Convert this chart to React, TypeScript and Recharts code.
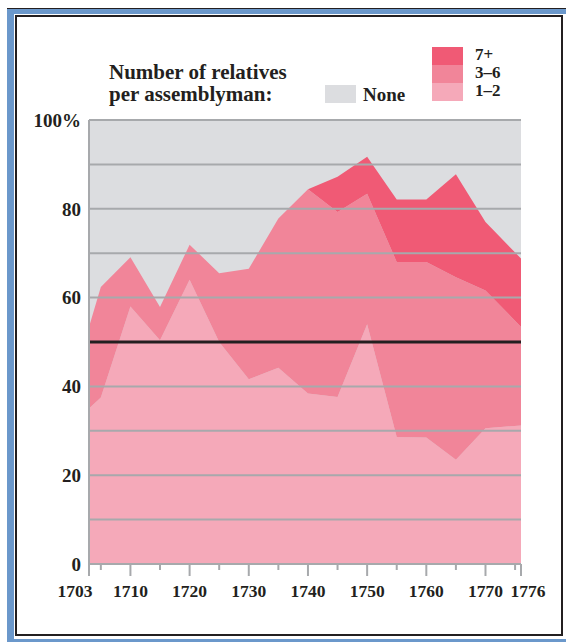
import { AreaChart, Area, XAxis, YAxis, CartesianGrid, ReferenceLine } from "recharts";

const years = [1703, 1705, 1710, 1715, 1720, 1725, 1730, 1735, 1740, 1745, 1750, 1755, 1760, 1765, 1770, 1776];
const oneTwo = [35, 37.5, 58, 50.4, 64, 50, 41.6, 44.2, 38.4, 37.6, 54, 28.6, 28.5, 23.5, 30.6, 31.2];
const threeSix = [18.4, 24.9, 11.1, 7.5, 7.9, 15.5, 24.9, 33.6, 46, 41.7, 29.4, 39.4, 39.5, 41.1, 31, 22.2];
const sevenPlus = [0, 0, 0, 0, 0, 0, 0, 0, 0, 7.9, 8.3, 14.1, 14.1, 23.2, 15.4, 15.4];

const xTicks = [1703, 1705, 1710, 1715, 1720, 1725, 1730, 1735, 1740, 1745, 1750, 1755, 1760, 1765, 1770, 1775, 1776];
const xLabels = [1703, 1710, 1720, 1730, 1740, 1750, 1760, 1770, 1776];
const yTicks = [0, 10, 20, 30, 40, 50, 60, 70, 80, 90, 100];
const gridValues = [10, 20, 30, 40, 60, 70, 80, 90, 100];

const legendItems = [
  { label: "7+", color: "#f05a75" },
  { label: "3\u20136", color: "#f18599" },
  { label: "1\u20132", color: "#f5a9b9" },
];

const data = years.map((year, i) => ({
  year,
  oneTwo: oneTwo[i],
  threeSix: threeSix[i],
  sevenPlus: sevenPlus[i],
}));

const FONT = "'Liberation Serif', 'Times New Roman', serif";
const INK = "#231f20";
const GRID = "#a7a9ac";

function XTick(props: any) {
  const { x, y, payload } = props;
  const major = xLabels.includes(payload.value);
  // end labels are nudged outward so they clear their neighbours
  const shift = payload.value === 1703 ? -14 : payload.value === 1776 ? 7 : 0;
  const top = y - 8; // axis line
  return (
    <g>
      <line x1={x} x2={x} y1={top} y2={top + (major ? 12 : 6)} stroke={GRID} strokeWidth={2} />
      {major && (
        <text x={x + shift} y={top + 33} textAnchor="middle" fontFamily={FONT} fontWeight="bold" fontSize={17.5} fill={INK}>
          {payload.value}
        </text>
      )}
    </g>
  );
}

export default function App() {
  return (
    <div style={{ position: "absolute", left: 0, top: 0, width: 566, height: 642, overflow: "hidden", background: "#fff" }}>
      {/* blue frame */}
      <div style={{ position: "absolute", left: 7, top: 8, width: 600, height: 640, background: "#6b98cb", borderTop: `1px solid ${INK}` }} />
      <div style={{ position: "absolute", left: 14, top: 14, width: 552, height: 625, background: "#fff" }} />
      <div style={{ position: "absolute", left: 15, top: 15, width: 544, height: 617, border: `2px solid ${INK}`, background: "#fff" }} />

      {/* title */}
      <div style={{ position: "absolute", left: 109, top: 61, fontFamily: FONT, fontWeight: "bold", fontSize: 21, lineHeight: "22px", color: INK }}>
        Number of relatives
        <br />
        per assemblyman:
      </div>

      {/* legend */}
      <div style={{ position: "absolute", left: 325, top: 85, width: 31, height: 18, background: "#dcdde0" }} />
      <div style={{ position: "absolute", left: 363, top: 84, fontFamily: FONT, fontWeight: "bold", fontSize: 19, lineHeight: "22px", color: INK }}>
        None
      </div>
      {legendItems.map((item, i) => (
        <div key={item.label}>
          <div style={{ position: "absolute", left: 432, top: 47 + i * 18, width: 31, height: 18, background: item.color }} />
          <div style={{ position: "absolute", left: 475, top: 46 + i * 18, fontFamily: FONT, fontWeight: "bold", fontSize: 17, lineHeight: "17px", color: INK }}>
            {item.label}
          </div>
        </div>
      ))}

      <div style={{ position: "absolute", left: 0, top: 0 }}>
        <AreaChart width={566} height={642} data={data} margin={{ top: 120, right: 45, bottom: 48, left: 29 }}>
          <CartesianGrid horizontal={false} vertical={false} fill="#dcdde0" fillOpacity={1} />
          <XAxis
            dataKey="year"
            type="number"
            domain={[1703, 1776]}
            ticks={xTicks}
            interval={0}
            height={30}
            tickLine={false}
            axisLine={{ stroke: GRID, strokeWidth: 2 }}
            tick={<XTick />}
          />
          <YAxis
            type="number"
            domain={[0, 100]}
            ticks={yTicks}
            interval={0}
            width={60}
            tickLine={false}
            axisLine={{ stroke: GRID, strokeWidth: 2 }}
            tickFormatter={(v: number) => (v % 20 === 0 ? (v === 100 ? "100%" : String(v)) : "")}
            tick={{ fontFamily: FONT, fontWeight: "bold", fontSize: 19, fill: INK }}
          />
          <Area type="linear" dataKey="oneTwo" stackId="1" stroke="none" fill="#f5a9b9" fillOpacity={1} isAnimationActive={false} />
          <Area type="linear" dataKey="threeSix" stackId="1" stroke="none" fill="#f18599" fillOpacity={1} isAnimationActive={false} />
          <Area type="linear" dataKey="sevenPlus" stackId="1" stroke="none" fill="#f05a75" fillOpacity={1} isAnimationActive={false} />
          {gridValues.map((v) => (
            <ReferenceLine key={v} y={v} stroke={GRID} strokeWidth={2} />
          ))}
          <ReferenceLine y={50} stroke={INK} strokeWidth={3} />
        </AreaChart>
      </div>
    </div>
  );
}
